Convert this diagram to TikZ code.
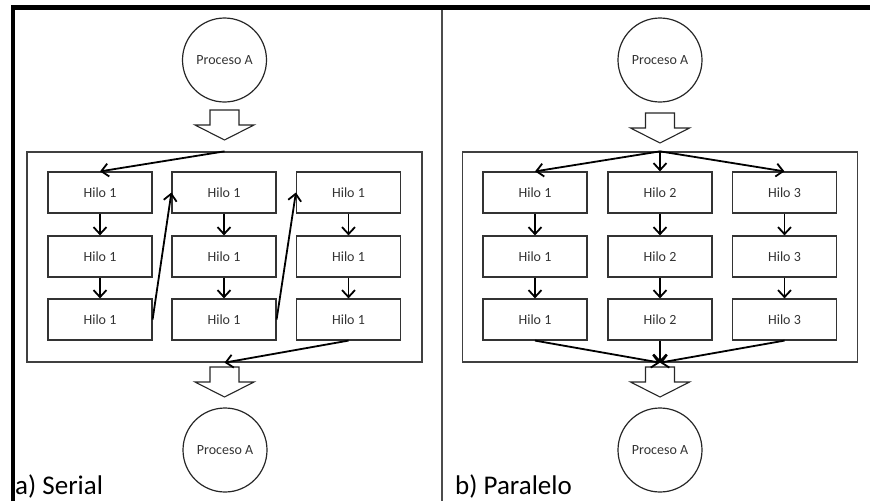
\documentclass[tikz,border=0pt]{standalone}
\usepackage{fontspec}
\setmainfont{Carlito}
\usetikzlibrary{arrows.meta}
\newcommand\blkarrow[2]{\draw[blk, shift={(#1,#2)}] (-14.5,0) -- (14.5,0) -- (14.5,15) -- (29.5,15) -- (0,30) -- (-29.5,15) -- (-14.5,15) -- cycle;}
\begin{document}
\begin{tikzpicture}[x=1pt,y=-1pt,
  hilo/.style={draw=black!80, line width=1.2pt, minimum width=104pt, minimum height=41pt, inner sep=0pt, font=\fontsize{14}{16}\selectfont, text=black!80},
  proc/.style={draw=black!85, line width=1.2pt, circle, minimum size=84pt, inner sep=0pt, font=\fontsize{14}{16}\selectfont, text=black!80},
  outerbox/.style={draw=black!75, line width=1.3pt, minimum width=395pt, minimum height=210pt, inner sep=0pt},
  conn/.style={line width=1.8pt, -{Straight Barb[length=7pt,width=13pt,line width=1.8pt]}},
  blk/.style={draw=black!85, line width=1.1pt, fill=white},
  lbl/.style={font=\fontsize{27}{30}\selectfont, anchor=base west, inner sep=0pt}
]
\useasboundingbox (0,0) rectangle (870,501);
% frame
\draw[line width=4.5pt] (13,501) -- (13,7.5) -- (870,7.5);
\draw[line width=2pt, black!70] (442,10) -- (442,501);

% ===== Serial =====
\node[outerbox] (LO) at (224.5,257) {};
\node[proc] (LP1) at (224.5,60) {Proceso A};
\node[proc] (LP2) at (225,450) {Proceso A};
\blkarrow{224.5}{110}
\blkarrow{224.5}{367}
\foreach \c/\x in {1/100,2/224,3/348.5}{
  \foreach \r/\y in {1/192.5,2/256.5,3/319.5}{
    \node[hilo] (L\c\r) at (\x,\y) {Hilo 1};
  }
}
\draw[conn] (LO.north) -- (L11.north);
\draw[conn] (L11.south) -- (L12.north);
\draw[conn] (L12.south) -- (L13.north);
\draw[conn] (L13.east) -- (L21.west);
\draw[conn] (L21.south) -- (L22.north);
\draw[conn] (L22.south) -- (L23.north);
\draw[conn] (L23.east) -- (L31.west);
\draw[conn] (L31.south) -- (L32.north);
\draw[conn] (L32.south) -- (L33.north);
\draw[conn] (L33.south) -- (LO.south);
\node[lbl] (LL) at (15,494) {a) Serial};

% ===== Paralelo =====
\node[outerbox] (RO) at (660,257) {};
\node[proc] (RP1) at (660,60) {Proceso A};
\node[proc] (RP2) at (660,450) {Proceso A};
\blkarrow{660}{113}
\blkarrow{660}{367}
\foreach \c/\x in {1/535,2/660,3/784.5}{
  \foreach \r/\y in {1/192.5,2/256.5,3/319.5}{
    \node[hilo] (R\c\r) at (\x,\y) {Hilo \c};
  }
}
\foreach \c in {1,2,3}{
  \draw[conn] (RO.north) -- (R\c1.north);
  \draw[conn] (R\c1.south) -- (R\c2.north);
  \draw[conn] (R\c2.south) -- (R\c3.north);
  \draw[conn] (R\c3.south) -- (RO.south);
}
\node[lbl] (RL) at (455,494) {b) Paralelo};
\end{tikzpicture}
\end{document}
